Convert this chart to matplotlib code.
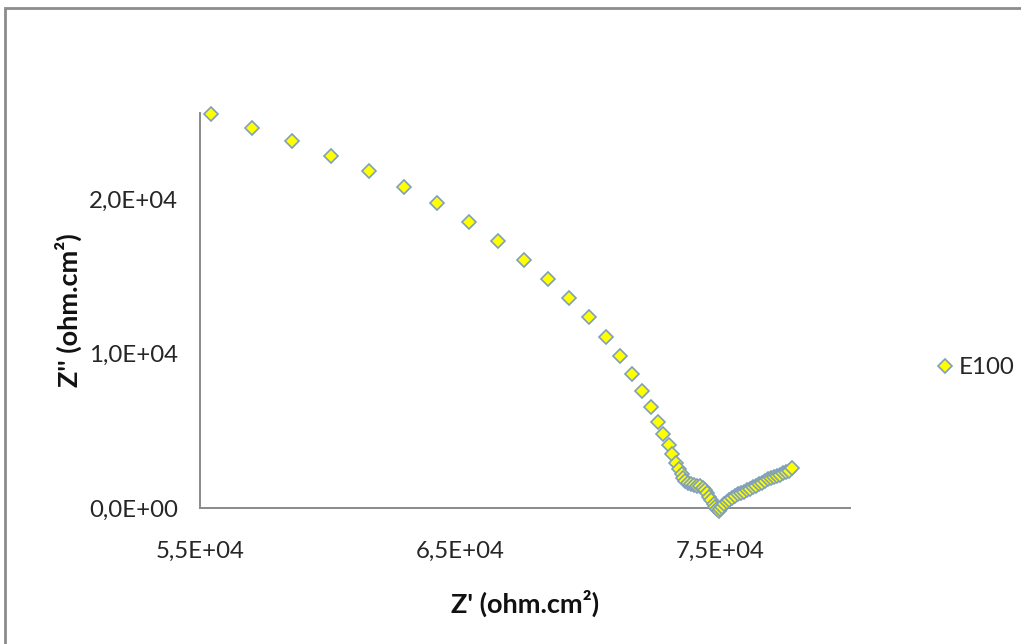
import matplotlib
matplotlib.use("Agg")
import matplotlib.pyplot as plt
from matplotlib.patches import Rectangle
from matplotlib.ticker import FixedLocator, FuncFormatter

# Nyquist data for sample E100 (ohm.cm²)
z_real = [
    55412, 56988, 58550, 60038, 61488, 62858, 64104, 65346, 66461, 67461,
    68384, 69192, 69961, 70604, 71154, 71615, 72000, 72346, 72623, 72819,
    73038, 73165, 73308, 73434, 73527, 73596, 73673, 73769, 73884, 73999,
    74115, 74230, 74345, 74442, 74519, 74596, 74673, 74750, 74826, 74903,
    74961, 75019, 75077, 75154, 75250, 75346, 75461, 75577, 75692, 75807,
    75923, 76038, 76154, 76269, 76384, 76500, 76615, 76730, 76846, 76961,
    77077, 77192, 77307, 77423, 77538, 77654, 77757,
]
z_imag = [
    25480, 24613, 23752, 22801, 21811, 20756, 19720, 18510, 17280, 16051,
    14821, 13591, 12362, 11048, 9837, 8672, 7553, 6569, 5585, 4809,
    4097, 3475, 2932, 2544, 2200, 1974, 1780, 1650, 1553, 1489,
    1456, 1424, 1327, 1165, 971, 744, 518, 291, 97, -65,
    -162, -65, 97, 259, 388, 518, 647, 777, 874, 971,
    1068, 1165, 1262, 1359, 1456, 1553, 1650, 1747, 1845, 1922,
    2006, 2084, 2168, 2252, 2330, 2427, 2569,
]
series_name = "E100"

x_ticks = [55000, 65000, 75000]
y_ticks = [0, 10000, 20000]


def excel_sci(v, _pos=None):
    s = "{:.1E}".format(v)
    mant, exp = s.split("E")
    sign = exp[0]
    digits = exp[1:].zfill(2)
    return "{}E{}{}".format(mant.replace(".", ","), sign, digits)


plt.rcParams["font.family"] = ["Lato", "DejaVu Sans"]

fig = plt.figure(figsize=(10.21, 6.44), dpi=100)
ax = fig.add_axes([200 / 1021, 1 - 508 / 644, 650 / 1021, 395 / 644])

ax.plot(z_real, z_imag, linestyle="none", marker="D", markersize=7.4,
        markerfacecolor="#FFFF00", markeredgecolor="#7F9FBA",
        markeredgewidth=1.2, clip_on=False, label=series_name, zorder=3)

ax.set_xlim(55000, 80000)
ax.set_ylim(0, 25570)
ax.xaxis.set_major_locator(FixedLocator(x_ticks))
ax.yaxis.set_major_locator(FixedLocator(y_ticks))
ax.xaxis.set_major_formatter(FuncFormatter(excel_sci))
ax.yaxis.set_major_formatter(FuncFormatter(excel_sci))
ax.tick_params(axis="both", length=0, labelsize=17.3, colors="#262626")
ax.tick_params(axis="x", pad=24)
ax.tick_params(axis="y", pad=16)

for side in ("top", "right"):
    ax.spines[side].set_visible(False)
for side in ("left", "bottom"):
    ax.spines[side].set_color("#8a8a8a")
    ax.spines[side].set_linewidth(1.4)

ax.set_xlabel("Z' (ohm.cm²)", fontsize=19.5, fontweight="bold",
              color="#111111", labelpad=20)
ax.set_ylabel("Z'' (ohm.cm²)", fontsize=19.5, fontweight="bold",
              color="#111111", labelpad=5)

leg = fig.legend(loc="center left", bbox_to_anchor=(926 / 1021, 1 - 368 / 644),
                 frameon=False, fontsize=17.3, handlelength=0.8,
                 handletextpad=0.15, borderaxespad=0)
for t in leg.get_texts():
    t.set_color("#262626")

# chart-area border
fig.patches.append(Rectangle((5 / 1021, -0.1), 1.2, (644 - 8) / 644 + 0.1,
                             transform=fig.transFigure, fill=False,
                             edgecolor="#8c8c8c", linewidth=2.0))

fig.savefig("out.png", dpi=100, facecolor="white")
